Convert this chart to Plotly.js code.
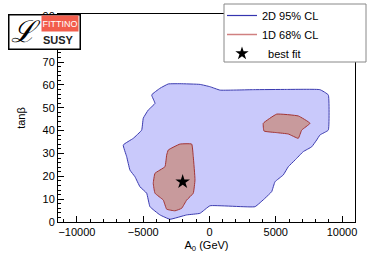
<!DOCTYPE html>
<html>
<head>
<meta charset="utf-8">
<script src="https://cdn.plot.ly/plotly-3.0.1.min.js"></script>
<style>html,body{margin:0;padding:0;background:#fff;}#chart{width:374px;height:253px;}</style>
</head>
<body>
<div id="chart"></div>
<script>
// 2D 95% CL region boundary (A0 in GeV, tanβ)
const cl95_x = [-3109,-2226,-717,38,792,3306,5826,8340,8966,8966,8340,8091,7713,7079,6453,5947,5570,4943,4694,4189,3434,38,-717,-1721,-2981,-3736,-4491,-4740,-5245,-5623,-6000,-6249,-6506,-5751,-5117,-4996,-4619,-4113,-4362,-3736,-3109];
const cl95_y = [60.4,60.5,60.2,59.2,57.7,57.9,58.0,57.9,55.6,40.2,38.1,35.9,32.9,30.8,27.1,24.2,20.6,17.6,13.3,10.4,6.7,7.1,3.8,3.1,1.2,3.1,6.7,12.6,15.4,19.8,22.7,28.6,33.7,36.6,40.2,45.4,49.0,51.9,55.6,58.5,60.4];
// 1D 68% CL region, low-A0 island
const cl68a_x = [-3109,-2226,-1343,-1223,-1094,-1223,-1721,-2098,-2604,-3230,-3487,-4113,-4242,-4113,-3358,-3230,-3109];
const cl68a_y = [31.5,34.1,34.1,28.6,18.4,12.6,9.6,6.0,4.9,5.6,9.6,12.6,16.9,21.3,24.2,29.3,31.5];
// 1D 68% CL region, high-A0 island
const cl68b_x = [4060,5072,6702,7585,6958,6702,5947,5072,4113,4060];
const cl68b_y = [43.2,47.2,46.4,43.2,40.2,36.6,38.5,39.1,39.8,43.2];
// best fit point
const best_x = [-2023];
const best_y = [17.6];

const legendNames = ['2D 95% CL', '1D 68% CL', '  best fit'];

const traces = [
  {x: cl95_x, y: cl95_y, type: 'scatter', mode: 'lines', fill: 'toself',
   fillcolor: '#c9c9fb', line: {color: '#3b3bb0', width: 1, shape: 'spline', smoothing: 0.3}, showlegend: false, hoverinfo: 'skip'},
  {x: cl68a_x, y: cl68a_y, type: 'scatter', mode: 'lines', fill: 'toself',
   fillcolor: '#c89a9c', line: {color: '#a33535', width: 1, shape: 'spline', smoothing: 0.3}, showlegend: false, hoverinfo: 'skip'},
  {x: cl68b_x, y: cl68b_y, type: 'scatter', mode: 'lines', fill: 'toself',
   fillcolor: '#c89a9c', line: {color: '#a33535', width: 1, shape: 'spline', smoothing: 0.3}, showlegend: false, hoverinfo: 'skip'},
  {x: best_x, y: best_y, type: 'scatter', mode: 'markers', marker: {symbol: 'star', size: 11, color: '#000'}, showlegend: false},
  {x: [null], y: [null], type: 'scatter', mode: 'lines', name: legendNames[0], line: {color: '#3535b0', width: 1.2}},
  {x: [null], y: [null], type: 'scatter', mode: 'lines', name: legendNames[1], line: {color: '#d08080', width: 1.5}},
  {x: [null], y: [null], type: 'scatter', mode: 'markers', name: legendNames[2], marker: {symbol: 'star', size: 10, color: '#000'}}
];

const font = {family: 'Liberation Sans, Arial, sans-serif', size: 11, color: '#000'};

const layout = {
  width: 374, height: 253,
  margin: {l: 58, r: 19, t: 14, b: 31, pad: 0, autoexpand: false},
  paper_bgcolor: '#fff', plot_bgcolor: '#fff',
  font: font,
  showlegend: true,
  xaxis: {
    range: [-11430, 10980], showgrid: false, zeroline: false,
    showline: true, linecolor: '#000', linewidth: 1, mirror: true,
    ticks: 'inside', ticklen: 6, tickcolor: '#000', dtick: 5000, tick0: 0, tickformat: 'd',
    minor: {dtick: 1000, ticks: 'inside', ticklen: 3, tickcolor: '#000'},
    tickfont: font,
    title: {text: 'A<sub>0</sub> (GeV)', font: font, standoff: 4}
  },
  yaxis: {
    range: [0, 91], showgrid: false, zeroline: false,
    showline: true, linecolor: '#000', linewidth: 1, mirror: true,
    ticks: 'inside', ticklen: 6, tickcolor: '#000', dtick: 10, tick0: 0,
    minor: {dtick: 2, ticks: 'inside', ticklen: 3, tickcolor: '#000'},
    tickfont: font,
    title: {text: 'tanβ', font: font, standoff: 14}
  },
  legend: {
    x: (222 - 58) / 297, y: (222 - 1) / 208, xanchor: 'left', yanchor: 'top',
    bgcolor: 'rgba(0,0,0,0)', borderwidth: 0,
    font: {family: 'Liberation Sans, Arial, sans-serif', size: 11, color: '#000'},
    tracegroupgap: 0, itemwidth: 30
  },
  shapes: [
    {type: 'rect', xref: 'paper', yref: 'paper', layer: 'above',
     x0: (224 - 58) / 297, x1: (366 - 58) / 297, y0: (222 - 62) / 208, y1: (222 - 4) / 208,
     fillcolor: '#fff', line: {color: '#888', width: 1}}
  ],
  annotations: [
    {xref: 'paper', yref: 'paper', x: -0.168, y: 1.0, xanchor: 'left', yanchor: 'top',
     text: ' ', width: 70, height: 33, bgcolor: '#fff', bordercolor: '#000', borderwidth: 1.5, borderpad: 0, showarrow: false},
    {xref: 'paper', yref: 'paper', x: (41 - 58) / 297, y: (222 - 15) / 208, xanchor: 'left', yanchor: 'top',
     text: 'FITTINO', width: 36, height: 15, bgcolor: '#f25d4c', borderpad: 0, showarrow: false,
     font: {family: 'Liberation Sans, Arial, sans-serif', size: 9, color: '#fff'}},
    {xref: 'paper', yref: 'paper', x: (41 - 58) / 297, y: (222 - 32) / 208, xanchor: 'left', yanchor: 'top',
     text: '<b>SUSY</b>', showarrow: false,
     font: {family: 'Liberation Sans, Arial, sans-serif', size: 11, color: '#222'}},
    {xref: 'paper', yref: 'paper', x: (9 - 58) / 297, y: (222 - 12) / 208, xanchor: 'left', yanchor: 'top',
     text: '<i>ℒ</i>', showarrow: false,
     font: {family: 'DejaVu Serif, serif', size: 30, color: '#000'}}
  ]
};

Plotly.newPlot('chart', traces, layout, {displayModeBar: false, staticPlot: true});
</script>
</body>
</html>
